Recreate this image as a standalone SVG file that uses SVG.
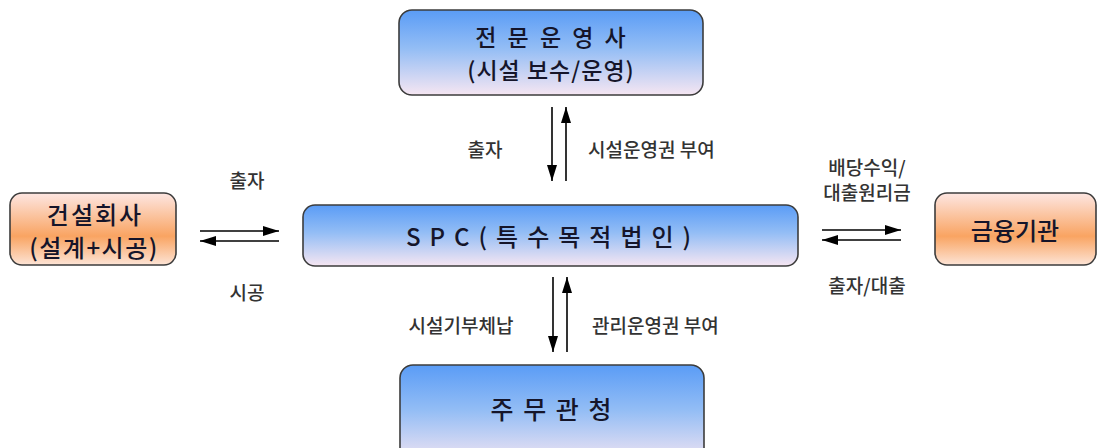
<svg xmlns="http://www.w3.org/2000/svg" width="1099" height="448" viewBox="0 0 1099 448">
<defs>
<linearGradient id="blue" x1="0" y1="0" x2="0" y2="1">
<stop offset="0" stop-color="#5a9cf6"/>
<stop offset="0.45" stop-color="#93bdf5"/>
<stop offset="1" stop-color="#f6e6f2"/>
</linearGradient>
<linearGradient id="orange" x1="0" y1="0" x2="0" y2="1">
<stop offset="0" stop-color="#fde6e2"/>
<stop offset="0.6" stop-color="#f9a462"/>
<stop offset="1" stop-color="#fde4d6"/>
</linearGradient>
<marker id="ahl" viewBox="0 0 16 10" refX="16" refY="5" markerWidth="16" markerHeight="10" markerUnits="userSpaceOnUse" orient="auto">
<path d="M0,0 L16,5 L0,10 Z" fill="#000"/>
</marker>
</defs>
<style>
.box{stroke:#3c3c3c;stroke-width:1.6}
.nt{font-family:"Noto Sans CJK KR","Noto Sans",sans-serif;font-size:24px;font-weight:500;fill:#15152a;text-anchor:middle}
.lb{font-family:"Noto Sans CJK KR","Noto Sans",sans-serif;font-size:19px;font-weight:500;fill:#333;text-anchor:middle}
.lbs{font-family:"Noto Sans CJK KR","Noto Sans",sans-serif;font-size:19px;font-weight:500;fill:#333;text-anchor:start}
.c{stroke:#000;stroke-width:1.6;fill:none;marker-end:url(#ahl)}
</style>
<rect width="1099" height="448" fill="#fff"/>
<g id="operator">
<rect class="box" x="399" y="10" width="304" height="85" rx="13" fill="url(#blue)"/>
<text class="nt" x="552" y="46" style="font-size:23px;letter-spacing:3px">전 문 운 영 사</text>
<text class="nt" x="551" y="79" style="font-size:23px;letter-spacing:1px">(시설 보수/운영)</text>
</g>
<g id="construction">
<rect class="box" x="10" y="193" width="166" height="72" rx="12" fill="url(#orange)"/>
<text class="nt" x="95" y="224" style="letter-spacing:2px">건설회사</text>
<text class="nt" x="94" y="257" style="letter-spacing:1.5px">(설계+시공)</text>
</g>
<g id="spc">
<rect class="box" x="303" y="205" width="495" height="61" rx="12" fill="url(#blue)"/>
<text class="nt" x="553" y="246" style="letter-spacing:9px">SPC(특수목적법인)</text>
</g>
<g id="finance">
<rect class="box" x="935" y="193" width="161" height="72" rx="12" fill="url(#orange)"/>
<text class="nt" x="1015" y="240">금융기관</text>
</g>
<g id="authority">
<rect class="box" x="400" y="365" width="304" height="100" rx="13" fill="url(#blue)"/>
<text class="nt" x="552" y="419" style="font-size:25px;letter-spacing:2px">주 무 관 청</text>
</g>
<g id="connectors">
<line class="c" x1="552" y1="107" x2="552" y2="181"/>
<line class="c" x1="566" y1="181" x2="566" y2="107"/>
<line class="c" x1="200" y1="231" x2="279" y2="231"/>
<line class="c" x1="279" y1="241" x2="200" y2="241"/>
<line class="c" x1="822" y1="230" x2="901" y2="230"/>
<line class="c" x1="901" y1="240" x2="822" y2="240"/>
<line class="c" x1="553" y1="277" x2="553" y2="352"/>
<line class="c" x1="567" y1="352" x2="567" y2="277"/>
</g>
<g id="labels">
<text class="lb" x="485" y="157">출자</text>
<text class="lbs" x="588" y="157">시설운영권 부여</text>
<text class="lb" x="247" y="188">출자</text>
<text class="lb" x="247" y="300">시공</text>
<text class="lb" x="867" y="175">배당수익/</text>
<text class="lb" x="867" y="200">대출원리금</text>
<text class="lb" x="867" y="293">출자/대출</text>
<text class="lb" x="461" y="333">시설기부체납</text>
<text class="lbs" x="592" y="333">관리운영권 부여</text>
</g>
</svg>
